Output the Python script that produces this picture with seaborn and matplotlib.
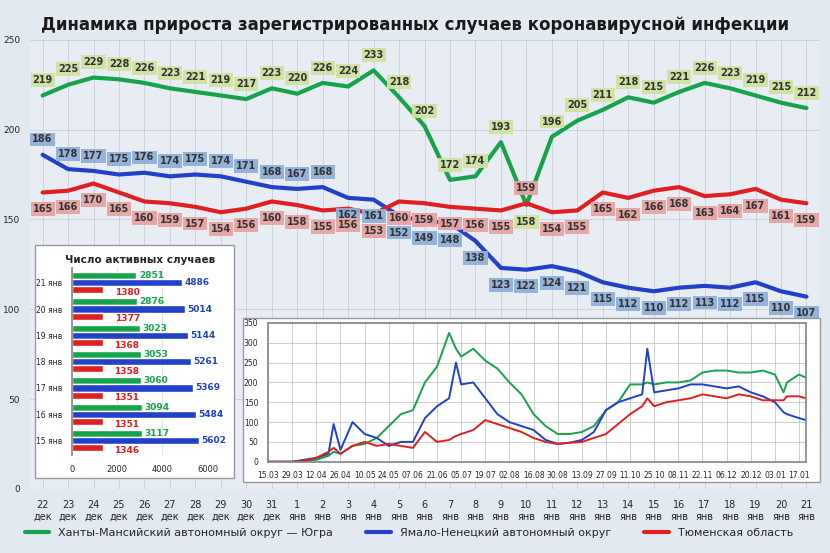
import matplotlib
matplotlib.use('Agg')
import matplotlib.pyplot as plt
from matplotlib.patches import Rectangle
import seaborn as sns
import pandas as pd
import numpy as np

# --- main chart data ---
days = ['22\nдек', '23\nдек', '24\nдек', '25\nдек', '26\nдек', '27\nдек', '28\nдек', '29\nдек', '30\nдек', '31\nдек'] + \
       [f'{d}\nянв' for d in range(1, 22)]
hmao = [219, 225, 229, 228, 226, 223, 221, 219, 217, 223,
        220, 226, 224, 233, 218, 202, 172, 174, 193, 158, 196, 205, 211, 218, 215, 221, 226, 223, 219, 215, 212]
yanao = [186, 178, 177, 175, 176, 174, 175, 174, 171, 168,
         167, 168, 162, 161, 152, 149, 148, 138, 123, 122, 124, 121, 115, 112, 110, 112, 113, 112, 115, 110, 107]
tyumen = [165, 166, 170, 165, 160, 159, 157, 154, 156, 160,
          158, 155, 156, 153, 160, 159, 157, 156, 155, 159, 154, 155, 165, 162, 166, 168, 163, 164, 167, 161, 159]

# --- active cases inset ---
bar_days = ['15 янв', '16 янв', '17 янв', '18 янв', '19 янв', '20 янв', '21 янв']
act_hmao = [3117, 3094, 3060, 3053, 3023, 2876, 2851]
act_yanao = [5602, 5484, 5369, 5261, 5144, 5014, 4886]
act_tyumen = [1346, 1351, 1351, 1358, 1368, 1377, 1380]

# --- long-term inset ---
hist_dates = ['2020-03-15', '2020-03-22', '2020-03-29', '2020-04-05', '2020-04-12', '2020-04-19', '2020-04-22',
              '2020-04-26', '2020-05-03', '2020-05-10', '2020-05-17', '2020-05-24', '2020-05-31', '2020-06-07',
              '2020-06-14', '2020-06-21', '2020-06-28', '2020-07-02', '2020-07-05', '2020-07-12', '2020-07-19',
              '2020-07-26', '2020-08-02', '2020-08-09', '2020-08-16', '2020-08-23', '2020-08-30', '2020-09-06',
              '2020-09-13', '2020-09-20', '2020-09-27', '2020-10-04', '2020-10-11', '2020-10-18', '2020-10-21',
              '2020-10-25', '2020-11-01', '2020-11-08', '2020-11-15', '2020-11-22', '2020-11-29', '2020-12-06',
              '2020-12-13', '2020-12-20', '2020-12-27', '2021-01-03', '2021-01-08', '2021-01-10', '2021-01-17',
              '2021-01-21']
hist_hmao = [0, 0, 0, 2, 5, 15, 25, 20, 40, 45, 60, 90, 120, 130, 200, 240, 325, 285, 265, 285, 255,
             235, 200, 170, 120, 90, 70, 70, 75, 90, 130, 150, 195, 195, 200, 195, 200, 200, 205, 225, 230,
             230, 225, 225, 230, 220, 175, 200, 220, 212]
hist_yanao = [0, 0, 0, 5, 10, 20, 95, 30, 100, 70, 60, 40, 50, 50, 110, 140, 160, 250, 195, 200, 160,
              120, 100, 90, 80, 55, 45, 48, 55, 75, 130, 150, 160, 170, 285, 175, 180, 185, 195, 195, 190,
              185, 190, 175, 165, 150, 125, 120, 110, 105]
hist_tyumen = [0, 0, 0, 2, 10, 25, 35, 20, 40, 50, 40, 45, 40, 35, 75, 50, 55, 65, 70, 80, 105,
               95, 85, 75, 60, 50, 45, 48, 50, 60, 70, 95, 120, 140, 160, 140, 150, 155, 160, 170, 165,
               160, 170, 165, 155, 155, 155, 165, 165, 160]

GREEN, BLUE, RED = '#17a34a', '#2341c8', '#e02020'
BOX_G, BOX_B, BOX_R = '#cfe3a0', '#8fb0da', '#e8a3a3'

sns.set_theme(style='white')
plt.rcParams['font.family'] = ['DejaVu Sans']

fig = plt.figure(figsize=(8.3, 5.53), dpi=100)
fig.patch.set_facecolor('#e3e9f0')

ax = fig.add_axes([0.036, 0.116, 0.951, 0.812])
ax.set_zorder(0)
ax.set_facecolor('#e8edf3')
df = pd.DataFrame({'x': np.arange(len(days)), 'hmao': hmao, 'yanao': yanao, 'tyumen': tyumen})
sns.lineplot(data=df, x='x', y='hmao', color=GREEN, lw=3, ax=ax, label='Ханты-Мансийский автономный округ — Югра')
sns.lineplot(data=df, x='x', y='yanao', color=BLUE, lw=3, ax=ax, label='Ямало-Ненецкий автономный округ')
sns.lineplot(data=df, x='x', y='tyumen', color=RED, lw=3, ax=ax, label='Тюменская область')
ax.set_xlim(-0.5, len(days) - 0.5)
ax.set_ylim(0, 250)
ax.set_xticks(np.arange(len(days)))
ax.set_xticklabels(days, fontsize=7)
ax.set_yticks(range(0, 251, 50))
ax.tick_params(axis='y', labelsize=6.5, pad=1)
ax.tick_params(axis='x', pad=2)
ax.set_xlabel('')
ax.set_ylabel('')
ax.grid(axis='y', color='#c8d0da', lw=0.6)
ax.grid(axis='x', color='#c8d0da', lw=0.6)
for s in ax.spines.values():
    s.set_visible(False)

def tag(x, y, v, off, fc):
    ax.annotate(str(v), (x, y), xytext=(0, off), textcoords='offset points', ha='center', va='center',
                fontsize=7, fontweight='bold', color='#333333',
                bbox=dict(boxstyle='square,pad=0.2', fc=fc, ec='none', alpha=0.95))

for i, v in enumerate(hmao):
    tag(i, v, v, -12 if i == 19 else 11, BOX_G)
for i, v in enumerate(yanao):
    tag(i, v, v, 11 if i < 12 else -12, BOX_B)
for i, v in enumerate(tyumen):
    tag(i, v, v, -12 if i != 19 else 11, BOX_R)

ax.legend(loc='upper center', bbox_to_anchor=(0.48, -0.065), ncol=3, frameon=False, fontsize=8,
          handlelength=2.2, columnspacing=3)
fig.text(0.5, 0.955, 'Динамика прироста зарегистрированных случаев коронавирусной инфекции',
         ha='center', va='center', fontsize=12, fontweight='bold', color='#1a1a1a')

# --- inset boxes ---
fig.patches.append(Rectangle((0.042, 0.135), 0.24, 0.422, transform=fig.transFigure,
                             fc='white', ec='#999999', lw=1, zorder=0.5))
fig.patches.append(Rectangle((0.293, 0.128), 0.695, 0.297, transform=fig.transFigure,
                             fc='white', ec='#999999', lw=1, zorder=0.5))

bx = fig.add_axes([0.087, 0.177, 0.163, 0.338])
bx.set_zorder(1)
bx.set_facecolor('white')
yy = np.arange(len(bar_days))
h = 0.27
bx.barh(yy + h, act_hmao, height=h, color=GREEN)
bx.barh(yy, act_yanao, height=h, color=BLUE)
bx.barh(yy - h, act_tyumen, height=h, color=RED)
for i in range(len(bar_days)):
    bx.text(act_hmao[i] + 100, yy[i] + h, str(act_hmao[i]), color=GREEN, fontsize=6.5, fontweight='bold', va='center')
    bx.text(act_yanao[i] + 100, yy[i], str(act_yanao[i]), color=BLUE, fontsize=6.5, fontweight='bold', va='center')
    bx.text(act_tyumen[i] + 500, yy[i] - h - 0.1, str(act_tyumen[i]), color=RED, fontsize=6.5, fontweight='bold', va='center')
bx.set_yticks(yy)
bx.set_yticklabels(bar_days, fontsize=5.5)
bx.set_xlim(0, 6000)
bx.set_xticks([0, 2000, 4000, 6000])
bx.tick_params(axis='x', labelsize=6, pad=1)
bx.tick_params(axis='y', pad=1)
bx.set_ylim(-0.55, len(bar_days) - 0.45)
bx.grid(axis='x', color='#dddddd', lw=0.6)
for s in ['top', 'right', 'bottom']:
    bx.spines[s].set_visible(False)
bx.spines['left'].set_color('#888888')
bx.set_title('Число активных случаев', fontsize=7.5, fontweight='bold', pad=4)

lx = fig.add_axes([0.323, 0.165, 0.648, 0.251])
lx.set_zorder(1)
hd = pd.DataFrame({'date': pd.to_datetime(hist_dates), 'hmao': hist_hmao, 'yanao': hist_yanao, 'tyumen': hist_tyumen})
sns.lineplot(data=hd, x='date', y='hmao', color=GREEN, lw=1.4, ax=lx)
sns.lineplot(data=hd, x='date', y='yanao', color=BLUE, lw=1.4, ax=lx)
sns.lineplot(data=hd, x='date', y='tyumen', color=RED, lw=1.4, ax=lx)
ticks = pd.date_range('2020-03-15', '2021-01-17', freq='14D')
lx.set_xticks(ticks)
lx.set_xticklabels([t.strftime('%d.%m') for t in ticks], fontsize=5.5)
lx.set_xlim(pd.Timestamp('2020-03-15'), pd.Timestamp('2021-01-21'))
lx.set_ylim(0, 350)
lx.set_yticks(range(0, 351, 50))
lx.tick_params(axis='y', labelsize=5.5, pad=1)
lx.tick_params(axis='x', pad=1)
lx.set_xlabel('')
lx.set_ylabel('')
lx.grid(True, color='#bbbbbb', lw=0.5)
for s in lx.spines.values():
    s.set_color('#888888')

fig.savefig('out.png', dpi=100, facecolor=fig.get_facecolor())
